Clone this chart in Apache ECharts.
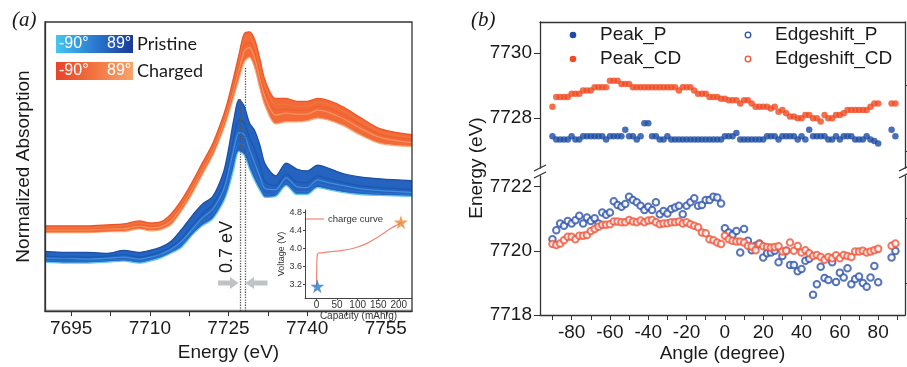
<!DOCTYPE html>
<html>
<head>
<meta charset="utf-8">
<script src="https://cdn.jsdelivr.net/npm/echarts@6.0.0/dist/echarts.min.js"></script>
<style>
  html, body {margin: 0; padding: 0; background: #fff;}
  #chart {width: 907px; height: 367px;}
</style>
</head>
<body>
<div id="chart"></div>
<script>
// ---- panel (a): XANES spectra (arbitrary absorption units)
const energy = [7690, 7694, 7698, 7702, 7705, 7708, 7710, 7712, 7714, 7716, 7718, 7720, 7722, 7724, 7725, 7726,
  7727, 7728, 7729, 7730, 7731, 7732, 7734, 7736, 7738, 7740, 7742, 7744, 7747, 7750, 7754, 7760]

const pristine1 = [0.61, 0.60, 0.60, 0.59, 0.62, 0.60, 0.62, 0.65, 0.71, 0.83, 0.97, 1.09, 1.17, 1.41, 1.65, 1.95,
  2.16, 2.09, 1.92, 1.84, 1.69, 1.50, 1.38, 1.51, 1.45, 1.43, 1.49, 1.46, 1.40, 1.37, 1.35, 1.33]
const pristine2 = [0.58, 0.58, 0.57, 0.58, 0.59, 0.57, 0.59, 0.62, 0.67, 0.77, 0.91, 1.03, 1.12, 1.35, 1.57, 1.85,
  2.05, 1.99, 1.87, 1.77, 1.59, 1.42, 1.33, 1.45, 1.38, 1.36, 1.43, 1.40, 1.36, 1.33, 1.30, 1.28]
const pristine3 = [0.56, 0.55, 0.55, 0.56, 0.58, 0.55, 0.57, 0.60, 0.65, 0.74, 0.87, 0.99, 1.09, 1.29, 1.51, 1.77,
  1.95, 1.92, 1.77, 1.65, 1.49, 1.32, 1.28, 1.40, 1.32, 1.31, 1.38, 1.35, 1.31, 1.28, 1.26, 1.24]
const pristine4 = [0.54, 0.54, 0.53, 0.54, 0.55, 0.53, 0.55, 0.58, 0.63, 0.71, 0.83, 0.95, 1.04, 1.23, 1.42, 1.65,
  1.82, 1.80, 1.65, 1.51, 1.37, 1.25, 1.24, 1.36, 1.27, 1.26, 1.34, 1.31, 1.28, 1.25, 1.23, 1.21]
const pristine5 = [0.52, 0.51, 0.51, 0.52, 0.53, 0.51, 0.53, 0.56, 0.61, 0.68, 0.81, 0.91, 0.99, 1.17, 1.33, 1.55,
  1.71, 1.69, 1.55, 1.41, 1.29, 1.19, 1.20, 1.31, 1.22, 1.22, 1.30, 1.27, 1.24, 1.22, 1.20, 1.19]
const pristine6 = [0.50, 0.49, 0.49, 0.50, 0.51, 0.49, 0.51, 0.54, 0.59, 0.65, 0.77, 0.87, 0.94, 1.11, 1.25, 1.45,
  1.63, 1.59, 1.45, 1.33, 1.23, 1.16, 1.17, 1.28, 1.19, 1.19, 1.26, 1.24, 1.21, 1.19, 1.18, 1.17]

const charged1 = [0.87, 0.87, 0.87, 0.88, 0.89, 0.92, 0.90, 0.91, 0.99, 1.13, 1.31, 1.51, 1.71, 1.99, 2.17, 2.39,
  2.62, 2.83, 2.85, 2.77, 2.57, 2.35, 2.17, 2.17, 2.14, 2.14, 2.17, 2.15, 2.08, 1.98, 1.86, 1.80]
const charged2 = [0.85, 0.85, 0.85, 0.86, 0.87, 0.90, 0.88, 0.89, 0.96, 1.10, 1.28, 1.48, 1.68, 1.96, 2.14, 2.35,
  2.57, 2.77, 2.80, 2.70, 2.49, 2.29, 2.11, 2.11, 2.09, 2.09, 2.13, 2.11, 2.04, 1.94, 1.83, 1.77]
const charged3 = [0.84, 0.84, 0.84, 0.85, 0.86, 0.88, 0.87, 0.88, 0.94, 1.08, 1.26, 1.46, 1.66, 1.94, 2.11, 2.31,
  2.52, 2.71, 2.74, 2.64, 2.43, 2.23, 2.05, 2.06, 2.05, 2.05, 2.09, 2.07, 2.00, 1.91, 1.80, 1.75]
const charged4 = [0.83, 0.83, 0.83, 0.84, 0.84, 0.87, 0.85, 0.86, 0.92, 1.06, 1.24, 1.44, 1.64, 1.91, 2.08, 2.27,
  2.47, 2.65, 2.69, 2.58, 2.37, 2.18, 2.00, 2.02, 2.01, 2.01, 2.05, 2.03, 1.96, 1.87, 1.77, 1.72]
const charged5 = [0.81, 0.81, 0.81, 0.82, 0.83, 0.85, 0.84, 0.85, 0.90, 1.04, 1.22, 1.42, 1.61, 1.88, 2.05, 2.23,
  2.42, 2.60, 2.64, 2.53, 2.32, 2.14, 1.96, 1.97, 1.97, 1.97, 2.01, 1.99, 1.92, 1.83, 1.74, 1.70]
const charged6 = [0.80, 0.80, 0.80, 0.81, 0.81, 0.84, 0.82, 0.83, 0.88, 1.02, 1.19, 1.39, 1.59, 1.85, 2.01, 2.19,
  2.37, 2.54, 2.59, 2.48, 2.27, 2.09, 1.91, 1.93, 1.93, 1.94, 1.97, 1.95, 1.89, 1.80, 1.71, 1.68]

const energyTicks = [7695, 7710, 7725, 7740, 7755]
const energyMinorTicks = [7695, 7702.5, 7710, 7717.5, 7725, 7732.5, 7740, 7747.5, 7755]
const peakLineEnergy = [7727.3, 7728.2]
const peakLineTop = [2.17, 2.49]

// inset: charge curve
const capacity = [0, 0.5, 1, 2, 4, 10, 20, 40, 60, 80, 100, 120, 140, 160, 180, 200, 208]
const voltage = [3.16, 3.5, 3.75, 3.86, 3.89, 3.9, 3.91, 3.93, 3.95, 3.98, 4.03, 4.1, 4.2, 4.32, 4.44, 4.54, 4.58]
const startPoint = [2, 3.16]
const endPoint = [205, 4.58]
const capacityTicks = [0, 50, 100, 150, 200]
const voltageTicks = [3.2, 3.6, 4.0, 4.4, 4.8]

// ---- panel (b): peak / edge positions vs angle
const angle = [-90, -88, -86, -84, -82, -80, -78, -76, -74, -72, -70, -68, -66, -64, -62, -60, -58, -56, -54, -52,
  -50, -48, -46, -44, -42, -40, -38, -36, -34, -32, -30, -28, -26, -24, -22, -20, -18, -16, -14, -12, -10, -8, -6,
  -4, -2, 0, 2, 4, 6, 8, 10, 12, 14, 16, 18, 20, 22, 24, 26, 28, 30, 32, 34, 36, 38, 40, 42, 44, 46, 48, 50, 52, 54,
  56, 58, 60, 62, 64, 66, 68, 70, 72, 74, 76, 78, 80, 87, 89]

const peakP = [7727.45, 7727.35, 7727.35, 7727.35, 7727.35, 7727.45, 7727.35, 7727.35, 7727.45, 7727.45, 7727.45,
  7727.45, 7727.45, 7727.45, 7727.35, 7727.45, 7727.45, 7727.45, 7727.45, 7727.65, 7727.45, 7727.45, 7727.35,
  7727.45, 7727.85, 7727.85, 7727.45, 7727.45, 7727.35, 7727.35, 7727.45,
  7727.35, 7727.35, 7727.35, 7727.35, 7727.35, 7727.35, 7727.35, 7727.35, 7727.35, 7727.35, 7727.35, 7727.35,
  7727.35, 7727.35,
  7727.45, 7727.45, 7727.45, 7727.55, 7727.35, 7727.35, 7727.35, 7727.35, 7727.35, 7727.35, 7727.35,
  7727.45, 7727.45, 7727.45, 7727.35, 7727.45, 7727.45, 7727.45, 7727.45, 7727.35, 7727.45, 7727.35, 7727.65,
  7727.45, 7727.45, 7727.45, 7727.45, 7727.35, 7727.35, 7727.45, 7727.35, 7727.45, 7727.45, 7727.45, 7727.35,
  7727.35, 7727.35, 7727.45, 7727.35, 7727.30, 7727.22,
  7727.65, 7727.45]

const peakCD = [7728.35, 7728.65, 7728.65, 7728.65, 7728.65, 7728.75, 7728.75, 7728.75, 7728.85, 7728.85, 7728.85,
  7728.95, 7728.95, 7728.95, 7728.95,
  7729.15, 7729.15, 7729.15, 7729.05, 7729.05, 7729.05, 7728.95, 7728.95, 7728.95, 7728.95, 7728.95, 7728.95,
  7728.95, 7728.95, 7728.95,
  7728.95, 7728.95, 7728.95, 7728.85, 7728.95, 7728.95, 7728.95, 7728.85, 7728.75, 7728.75, 7728.75, 7728.65,
  7728.65, 7728.65, 7728.60,
  7728.60, 7728.55, 7728.55, 7728.55, 7728.45, 7728.55, 7728.55, 7728.45, 7728.35, 7728.35, 7728.35, 7728.35,
  7728.30, 7728.35, 7728.20,
  7728.25, 7728.15, 7728.05, 7728.05, 7728.00, 7728.00, 7728.10, 7728.10, 7728.00, 7728.00, 7727.90, 7728.10,
  7728.00, 7728.00, 7728.10,
  7728.10, 7728.15, 7728.25, 7728.25, 7728.25, 7728.25, 7728.25, 7728.25, 7728.35, 7728.45, 7728.45,
  7728.45, 7728.45]

const edgeP = [7720.36, 7720.64, 7720.85, 7720.78, 7720.93, 7720.85, 7720.95, 7721.09, 7720.85, 7721.04, 7720.93,
  7721.01, 7720.85, 7721.19, 7721.12, 7721.19, 7721.54, 7721.43, 7721.37, 7721.46, 7721.68, 7721.58, 7721.51,
  7721.40, 7721.27, 7721.37, 7721.27, 7721.51, 7721.14, 7721.24, 7721.16, 7721.30, 7721.35, 7721.40, 7721.14,
  7721.40, 7721.51, 7721.64, 7721.40, 7721.43, 7721.58, 7721.58, 7721.68, 7721.66, 7721.47,
  7720.70, 7720.57, 7720.50, 7720.62, 7719.95, 7720.68, 7720.31, 7720.02, 7720.16, 7720.23,
  7719.79, 7719.92, 7719.95, 7720.00, 7719.64, 7719.84, 7720.00, 7719.56, 7719.56, 7719.36,
  7719.43, 7719.69, 7719.75, 7718.63, 7718.96, 7719.50, 7719.15, 7719.09, 7719.64, 7719.03,
  7719.32, 7719.17, 7719.46, 7718.96, 7719.12, 7719.20, 7719.00, 7718.88, 7719.17, 7719.53, 7719.02,
  7719.79, 7719.99]

const edgeCD = [7720.21, 7720.18, 7720.23, 7720.33, 7720.44, 7720.44, 7720.36, 7720.47, 7720.47, 7720.49, 7720.62,
  7720.68, 7720.75, 7720.81, 7720.81, 7720.83, 7720.91, 7720.91, 7720.89, 7720.89, 7720.96, 7720.91, 7720.89,
  7720.94, 7720.89, 7720.94, 7720.96, 7720.89, 7720.83, 7720.85, 7720.86, 7720.89, 7720.89, 7720.91, 7720.85,
  7720.89, 7720.83, 7720.78, 7720.73, 7720.57, 7720.55, 7720.36, 7720.33, 7720.26, 7720.21,
  7720.47, 7720.36, 7720.31, 7720.29, 7720.29, 7720.26, 7720.16, 7720.13, 7720.02, 7720.21,
  7720.14, 7720.12, 7720.10, 7720.12, 7720.14, 7719.98, 7720.00, 7720.26, 7720.00, 7720.15,
  7719.95, 7720.02, 7719.92, 7719.84, 7719.87, 7719.81, 7719.72, 7719.81, 7719.77, 7719.86,
  7719.77, 7719.87, 7719.84, 7719.81, 7719.98, 7719.98, 7720.00, 7719.95, 7719.98, 7720.02, 7720.06,
  7720.16, 7720.23]

const angleLabels = [-80, -60, -40, -20, 0, 20, 40, 60, 80]
const angleTicks = [-90, -80, -70, -60, -50, -40, -30, -20, -10, 0, 10, 20, 30, 40, 50, 60, 70, 80, 90]
const upperLabels = [7728, 7730]
const upperMinor = [7727, 7729]
const lowerLabels = [7718, 7720, 7722]
const lowerMinor = [7719, 7721]

// ---- styling
const font = '"Liberation Sans", Arial, sans-serif'
const txt = '#1a1a1a'
const axisColor = '#333'
const pristineColors = ['#1d4fa6', '#2466c4', '#1b58b5', '#3d8fda', '#2a6fcc', '#63c6ee']
const chargedColors = ['#ee5526', '#f2743f', '#f0612f', '#f5925e', '#f36b37', '#f8a878']
const colPeakP = '#1b4ca4'
const colPeakCD = '#f04b22'
const colEdgeP = '#2d52aa'
const colEdgeCD = '#f0543a'
const star = 'path://M50,0 L61,35 L98,35 L68,57 L79,91 L50,70 L21,91 L32,57 L2,35 L39,35 Z'

const pair = (xs, ys) => xs.map((x, i) => [x, ys[i]])
const plain = v => String(v)

const chart = echarts.init(document.getElementById('chart'), null, {renderer: 'canvas'})

const lineOf = (ys, color) => ({
  type: 'line', xAxisIndex: 0, yAxisIndex: 0, data: pair(energy, ys),
  smooth: 0.3, showSymbol: false, silent: true, z: 3,
  lineStyle: {color, width: 1.3}
})

// filled envelope: colour down from the top curve, then white back up to the bottom curve
const fillOf = (ys, color) => ({
  type: 'line', xAxisIndex: 0, yAxisIndex: 0, data: pair(energy, ys),
  smooth: 0.3, showSymbol: false, silent: true, z: 2,
  lineStyle: {width: 0, opacity: 0}, areaStyle: {color, opacity: 1, origin: 0.015}
})

const noSplit = {show: false}
const lbl = (size) => ({fontSize: size, fontFamily: font, color: txt})
const boxLine = {show: true, onZero: false, lineStyle: {color: axisColor, width: 1.3}}

// legend of panel (b), one entry per row: marker centre and text start
const legendItem = (cx, cy, name, color, hollow) => [
  {type: 'circle', shape: {cx, cy, r: hollow ? 2.8 : 3.3},
    style: hollow ? {fill: '#fff', stroke: color, lineWidth: 1.3} : {fill: color}},
  {type: 'text', x: cx + 27, y: cy,
    style: {text: name, fill: txt, font: '19px "Liberation Sans", Arial', verticalAlign: 'middle'}}
]

const option = {
  animation: false,
  backgroundColor: '#fff',
  grid: [
    {left: 45, top: 22, width: 367, height: 295, show: true, borderColor: axisColor, borderWidth: 1.3, z: 10},
    {left: 305, top: 210, width: 107, height: 88, z: 10},
    {left: 540, top: 22, width: 365, height: 146},
    {left: 540, top: 176, width: 365, height: 139}
  ],
  xAxis: [
    {gridIndex: 0, type: 'value', min: 7690, max: 7760, splitLine: noSplit, z: 10, axisLine: boxLine,
      axisTick: {customValues: energyMinorTicks, length: 5, lineStyle: {color: axisColor}},
      axisLabel: Object.assign({customValues: energyTicks, margin: 8, formatter: plain}, lbl(19)),
      name: 'Energy (eV)', nameLocation: 'middle', nameGap: 29, nameTextStyle: lbl(19)},
    {gridIndex: 1, type: 'value', min: -28, max: 232, splitLine: noSplit, z: 10,
      axisLine: {onZero: false, lineStyle: {color: '#444', width: 1}},
      axisTick: {customValues: capacityTicks, length: 2, lineStyle: {color: '#444'}},
      axisLabel: Object.assign({customValues: capacityTicks, margin: 2, formatter: plain}, lbl(10), {color: '#333'}),
      name: 'Capacity (mAh/g)', nameLocation: 'middle', nameGap: 9,
      nameTextStyle: Object.assign(lbl(10), {color: '#333'})},
    {gridIndex: 2, type: 'value', position: 'top', min: -96.5, max: 94, splitLine: noSplit,
      axisLine: boxLine, axisTick: {show: false}, axisLabel: {show: false}},
    {gridIndex: 3, type: 'value', position: 'bottom', min: -96.5, max: 94, splitLine: noSplit, axisLine: boxLine,
      axisTick: {customValues: angleTicks, length: 5, lineStyle: {color: axisColor}},
      axisLabel: Object.assign({customValues: angleLabels, margin: 8, formatter: plain}, lbl(19)),
      name: 'Angle (degree)', nameLocation: 'middle', nameGap: 29, nameTextStyle: lbl(19)}
  ],
  yAxis: [
    {gridIndex: 0, type: 'value', min: 0, max: 2.95, splitLine: noSplit, z: 10, axisLine: boxLine,
      axisTick: {show: false}, axisLabel: {show: false},
      name: 'Normalized Absorption', nameLocation: 'middle', nameGap: 12, nameTextStyle: lbl(19)},
    {gridIndex: 1, type: 'value', min: 2.9, max: 4.85, splitLine: noSplit, z: 10,
      axisLine: {show: true, onZero: false, lineStyle: {color: '#444', width: 1}},
      axisTick: {show: true, customValues: voltageTicks, length: 2, lineStyle: {color: '#444'}},
      axisLabel: Object.assign({customValues: voltageTicks, margin: 3, formatter: v => v.toFixed(1)}, lbl(9),
        {color: '#333'}),
      name: 'Voltage (V)', nameLocation: 'middle', nameGap: 16, nameTextStyle: Object.assign(lbl(9), {color: '#333'})},
    {gridIndex: 2, type: 'value', min: 7726.47, max: 7730.96, splitLine: noSplit, axisLine: boxLine,
      axisTick: {show: true, customValues: upperLabels, length: 6, lineStyle: {color: axisColor}},
      axisLabel: Object.assign({customValues: upperLabels, margin: 8, formatter: plain}, lbl(19))},
    {gridIndex: 2, type: 'value', min: 7726.47, max: 7730.96, splitLine: noSplit,
      axisLine: {show: false, onZero: false}, axisLabel: {show: false},
      axisTick: {show: true, customValues: upperMinor, length: 3, lineStyle: {color: axisColor}}},
    {gridIndex: 2, type: 'value', position: 'right', min: 7726.47, max: 7730.96, splitLine: noSplit,
      axisLine: boxLine, axisTick: {show: false}, axisLabel: {show: false}},
    {gridIndex: 3, type: 'value', min: 7718, max: 7722.33, splitLine: noSplit, axisLine: boxLine,
      axisTick: {show: true, customValues: lowerLabels, length: 6, lineStyle: {color: axisColor}},
      axisLabel: Object.assign({customValues: lowerLabels, margin: 8, formatter: plain}, lbl(19))},
    {gridIndex: 3, type: 'value', min: 7718, max: 7722.33, splitLine: noSplit,
      axisLine: {show: false, onZero: false}, axisLabel: {show: false},
      axisTick: {show: true, customValues: lowerMinor, length: 3, lineStyle: {color: axisColor}}},
    {gridIndex: 3, type: 'value', position: 'right', min: 7718, max: 7722.33, splitLine: noSplit,
      axisLine: boxLine, axisTick: {show: false}, axisLabel: {show: false}}
  ],
  series: [
    fillOf(charged1, '#f26a38'),
    fillOf(charged6, '#ffffff'),
    fillOf(pristine1, '#2563bf'),
    fillOf(pristine6, '#ffffff'),
    ...[charged6, charged5, charged4, charged3, charged2, charged1].map((ys, i) => lineOf(ys, chargedColors[5 - i])),
    ...[pristine6, pristine5, pristine4, pristine3, pristine2, pristine1].map((ys, i) => lineOf(ys, pristineColors[5 - i])),
    {type: 'line', xAxisIndex: 0, yAxisIndex: 0, data: [], silent: true, z: 5,
      markLine: {symbol: 'none', silent: true, label: {show: false},
        lineStyle: {type: 'dotted', color: '#555', width: 1.3},
        data: peakLineEnergy.map((e, i) => [{coord: [e, 0]}, {coord: [e, peakLineTop[i]]}])}},
    {type: 'line', xAxisIndex: 1, yAxisIndex: 1, data: pair(capacity, voltage), smooth: 0.4, z: 6,
      showSymbol: false, silent: true, lineStyle: {color: '#f08572', width: 1.2}},
    {type: 'scatter', xAxisIndex: 1, yAxisIndex: 1, data: [startPoint], silent: true, z: 7,
      symbol: star, symbolSize: 14, itemStyle: {color: '#2b7bcc'}},
    {type: 'scatter', xAxisIndex: 1, yAxisIndex: 1, data: [endPoint], silent: true, z: 7,
      symbol: star, symbolSize: 14, itemStyle: {color: '#f0842e'}},
    {name: 'Peak_P', type: 'scatter', xAxisIndex: 2, yAxisIndex: 2, data: pair(angle, peakP),
      symbol: 'circle', symbolSize: 6.5, itemStyle: {color: colPeakP}},
    {name: 'Peak_CD', type: 'scatter', xAxisIndex: 2, yAxisIndex: 2, data: pair(angle, peakCD),
      symbol: 'circle', symbolSize: 6.5, itemStyle: {color: colPeakCD}},
    {name: 'Edgeshift_P', type: 'scatter', xAxisIndex: 3, yAxisIndex: 5, data: pair(angle, edgeP),
      symbol: 'emptyCircle', symbolSize: 6.5, itemStyle: {color: colEdgeP, borderColor: colEdgeP, borderWidth: 1.3}},
    {name: 'Edgeshift_CD', type: 'scatter', xAxisIndex: 3, yAxisIndex: 5, data: pair(angle, edgeCD),
      symbol: 'emptyCircle', symbolSize: 6.5, itemStyle: {color: colEdgeCD, borderColor: colEdgeCD, borderWidth: 1.3}}
  ],
  graphic: [
    {type: 'text', left: 12, top: 10, style: {text: '(a)', font: 'italic 21px "Liberation Serif", serif', fill: txt}},
    {type: 'text', left: 471, top: 10, style: {text: '(b)', font: 'italic 21px "Liberation Serif", serif', fill: txt}},
    // gradient legend of panel (a)
    {type: 'rect', shape: {x: 56, y: 35, width: 77, height: 18},
      style: {fill: new echarts.graphic.LinearGradient(0, 0, 1, 0, [{offset: 0, color: '#45c6f0'}, {offset: 0.5, color: '#2a7ad0'}, {offset: 1, color: '#1a3a98'}])}},
    {type: 'rect', shape: {x: 56, y: 62, width: 77, height: 18},
      style: {fill: new echarts.graphic.LinearGradient(0, 0, 1, 0, [{offset: 0, color: '#e8432a'}, {offset: 0.5, color: '#f27440'}, {offset: 1, color: '#f7a46c'}])}},
    {type: 'text', x: 59, y: 44, style: {text: '-90°', fill: '#fff', font: '16px "Liberation Sans", Arial', verticalAlign: 'middle'}},
    {type: 'text', x: 107, y: 44, style: {text: '89°', fill: '#fff', font: '16px "Liberation Sans", Arial', verticalAlign: 'middle'}},
    {type: 'text', x: 59, y: 71, style: {text: '-90°', fill: '#fff', font: '16px "Liberation Sans", Arial', verticalAlign: 'middle'}},
    {type: 'text', x: 107, y: 71, style: {text: '89°', fill: '#fff', font: '16px "Liberation Sans", Arial', verticalAlign: 'middle'}},
    {type: 'text', x: 137, y: 44, style: {text: 'Pristine', fill: txt, font: '18px Lato, sans-serif', verticalAlign: 'middle'}},
    {type: 'text', x: 137, y: 71, style: {text: 'Charged', fill: txt, font: '18px Lato, sans-serif', verticalAlign: 'middle'}},
    // 0.7 eV annotation with arrows
    {type: 'text', x: 227, y: 247, rotation: Math.PI / 2, z: 20,
      style: {text: '0.7 eV', fill: txt, font: '18px "Liberation Sans", Arial', align: 'center', verticalAlign: 'middle'}},
    {type: 'polygon', z: 20, shape: {points: [[218, 280.5], [230, 280.5], [230, 277], [238.5, 283], [230, 289], [230, 285.5], [218, 285.5]]},
      style: {fill: '#bfc3c7'}},
    {type: 'polygon', z: 20, shape: {points: [[267.5, 280.5], [254, 280.5], [254, 277], [245.5, 283], [254, 289], [254, 285.5], [267.5, 285.5]]},
      style: {fill: '#bfc3c7'}},
    // inset legend
    {type: 'line', z: 20, shape: {x1: 306, y1: 219, x2: 324, y2: 219}, style: {stroke: '#f08572', lineWidth: 1.2}},
    {type: 'text', z: 20, x: 328, y: 219, style: {text: 'charge curve', fill: '#333', font: '9.5px "Liberation Sans", Arial', verticalAlign: 'middle'}},
    // panel (b) legend
    ...legendItem(573, 35, 'Peak_P', colPeakP, false),
    ...legendItem(573, 59, 'Peak_CD', colPeakCD, false),
    ...legendItem(748, 35, 'Edgeshift_P', colEdgeP, true),
    ...legendItem(748, 59, 'Edgeshift_CD', colEdgeCD, true),
    // panel (b) y name and axis-break marks
    {type: 'text', x: 477, y: 168, rotation: Math.PI / 2,
      style: {text: 'Energy (eV)', fill: txt, font: '19px "Liberation Sans", Arial', align: 'center', verticalAlign: 'middle'}},
    {type: 'line', shape: {x1: 534, y1: 171, x2: 546, y2: 165}, style: {stroke: axisColor, lineWidth: 1.3}},
    {type: 'line', shape: {x1: 534, y1: 178, x2: 546, y2: 172}, style: {stroke: axisColor, lineWidth: 1.3}},
    {type: 'line', shape: {x1: 899, y1: 171, x2: 911, y2: 165}, style: {stroke: axisColor, lineWidth: 1.3}},
    {type: 'line', shape: {x1: 899, y1: 178, x2: 911, y2: 172}, style: {stroke: axisColor, lineWidth: 1.3}}
  ]
}

chart.setOption(option)
</script>
</body>
</html>
